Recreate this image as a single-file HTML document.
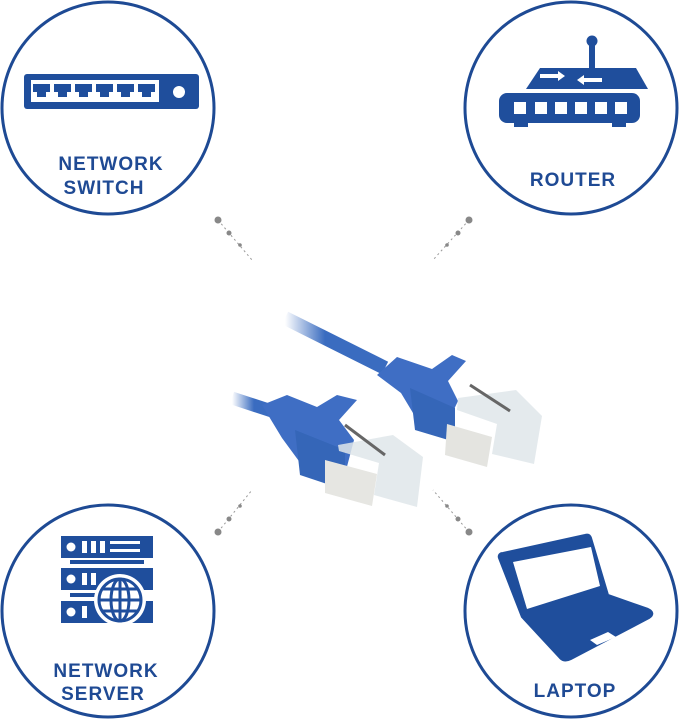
<!DOCTYPE html>
<html><head><meta charset="utf-8"><style>
html,body{margin:0;padding:0;background:#fff;}
svg{display:block}
text{font-family:"Liberation Sans",sans-serif;font-weight:bold;fill:#1f4a94;text-anchor:middle;font-size:19px;letter-spacing:1px}
</style></head><body>
<svg width="680" height="720" viewBox="0 0 680 720" xmlns="http://www.w3.org/2000/svg">
<g fill="none" stroke="#1e4a94" stroke-width="3">
<circle cx="108" cy="108" r="106"/>
<circle cx="571" cy="108" r="106"/>
<circle cx="108" cy="611" r="106"/>
<circle cx="571" cy="611" r="106"/>
</g>
<g stroke="#999" stroke-width="1" stroke-dasharray="2,3">
<line x1="218" y1="220" x2="252" y2="260"/>
<line x1="469" y1="220" x2="433" y2="260"/>
<line x1="218" y1="532" x2="252" y2="490"/>
<line x1="469" y1="532" x2="433" y2="490"/>
</g>
<g fill="#888">
<circle cx="218" cy="220" r="3.5"/><circle cx="229" cy="233" r="2.5"/><circle cx="240" cy="245" r="1.8"/>
<circle cx="469" cy="220" r="3.5"/><circle cx="458" cy="233" r="2.5"/><circle cx="447" cy="245" r="1.8"/>
<circle cx="218" cy="532" r="3.5"/><circle cx="229" cy="519" r="2.5"/><circle cx="240" cy="506" r="1.8"/>
<circle cx="469" cy="532" r="3.5"/><circle cx="458" cy="519" r="2.5"/><circle cx="447" cy="506" r="1.8"/>
</g>
<!-- switch icon -->
<rect x="24" y="74" width="175" height="35" rx="3" fill="#1f4e9c"/>
<rect x="31" y="80" width="128" height="22" fill="#fff"/>
<g fill="#1f4e9c">
<path d="M33 84h17v8h-4v5h-9v-5h-4z"/><path d="M54 84h17v8h-4v5h-9v-5h-4z"/><path d="M75 84h17v8h-4v5h-9v-5h-4z"/><path d="M96 84h17v8h-4v5h-9v-5h-4z"/><path d="M117 84h17v8h-4v5h-9v-5h-4z"/><path d="M138 84h17v8h-4v5h-9v-5h-4z"/>
</g>
<circle cx="179" cy="92" r="6" fill="#fff"/>
<text x="111" y="170">NETWORK</text>
<text x="104" y="194">SWITCH</text>
<!-- router icon -->
<g fill="#1f4e9c">
<circle cx="592" cy="41" r="5.5"/><rect x="589" y="44" width="6" height="24"/>
<path d="M540 68h96l12 21h-122z"/>
<rect x="499" y="93" width="141" height="30" rx="8"/>
<rect x="514" y="120" width="14" height="7"/><rect x="612" y="120" width="14" height="7"/>
</g>
<g fill="#fff">
<rect x="514" y="102" width="12" height="12"/><rect x="535" y="102" width="12" height="12"/><rect x="555" y="102" width="12" height="12"/><rect x="575" y="102" width="12" height="12"/><rect x="595" y="102" width="12" height="12"/><rect x="615" y="102" width="12" height="12"/>
<path d="M540 74h18v-3l7 5-7 5v-3h-18z"/><path d="M602 79h-18v-3l-7 5 7 5v-3h18z" transform="translate(0,-1)"/>
</g>
<text x="573" y="186">ROUTER</text>
<!-- server icon -->
<g fill="#1f4e9c">
<rect x="61" y="536" width="92" height="22"/>
<rect x="61" y="568" width="92" height="22"/>
<rect x="61" y="601" width="92" height="22"/>
<rect x="70" y="560" width="74" height="4"/><rect x="70" y="593" width="74" height="4"/>
</g>
<g fill="#fff">
<circle cx="71" cy="547" r="4.5"/><rect x="82" y="541" width="5" height="12"/><rect x="91" y="541" width="5" height="12"/><rect x="100" y="541" width="5" height="12"/><rect x="110" y="541" width="30" height="3"/><rect x="110" y="549" width="30" height="3"/>
<circle cx="71" cy="579" r="4.5"/><rect x="82" y="573" width="5" height="12"/><rect x="91" y="573" width="5" height="12"/>
<circle cx="71" cy="612" r="4.5"/><rect x="82" y="606" width="5" height="12"/>
<circle cx="120" cy="600" r="26"/>
</g>
<g fill="none" stroke="#1f4e9c" stroke-width="3">
<circle cx="120" cy="600" r="21"/><ellipse cx="120" cy="600" rx="9" ry="21"/><line x1="120" y1="579" x2="120" y2="621"/><line x1="99" y1="600" x2="141" y2="600"/><path d="M103 589h34M103 611h34"/>
</g>
<text x="106" y="677">NETWORK</text>
<text x="103" y="700">SERVER</text>
<!-- laptop icon -->
<path d="M503 553l82-18c3-1 5 0 6 3l17 57 40 14c5 2 6 6 1 9l-78 41c-4 2-8 2-11-1l-38-41-23-59c-1-3 1-5 4-5z" fill="#1f4e9c" stroke="#1f4e9c" stroke-linejoin="round" stroke-width="2"/>
<path d="M513 562l78-15 9 39-73 23z" fill="#fff"/>
<path d="M590 640l18-8 8 5-19 8z" fill="#fff"/>
<text x="575" y="697">LAPTOP</text>
<!-- cable (approximation) -->
<defs><linearGradient id="cg" x1="0" x2="1"><stop offset="0" stop-color="#3a6cc0" stop-opacity="0"/><stop offset="0.4" stop-color="#3a6cc0"/></linearGradient></defs>
<path d="M285 318l100 50" stroke="url(#cg)" stroke-width="14" fill="none"/>
<path d="M232 398l55 18" stroke="url(#cg)" stroke-width="13" fill="none"/>
<path d="M377 375l20-18 35 12 20-14 14 6-18 20 10 20-12 25-30-8-15-25z" fill="#3f6ec4"/>
<path d="M410 388l45 20v34l-40-12z" fill="#3566b8"/>
<path d="M447 424l45 13-5 30-42-12z" fill="#e4e4e0"/>
<path d="M458 398l58-8 26 26-8 48-42-10 5-30-40-14z" fill="#dfe6ea" opacity="0.85"/>
<path d="M470 385l40 26" stroke="#666" stroke-width="3"/>
<path d="M262 405l25-10 30 12 20-12 20 5-18 20 15 20-10 38-40-10-22-30z" fill="#3f6ec4"/>
<path d="M295 430l50 20v40l-45-15z" fill="#3566b8"/>
<path d="M325 460l52 14-5 32-47-13z" fill="#e6e6e2"/>
<path d="M338 445l55-10 30 22-6 50-43-12 5-32-40-12z" fill="#dfe6ea" opacity="0.85"/>
<path d="M345 425l40 30" stroke="#666" stroke-width="3"/>
</svg>
</body></html>
